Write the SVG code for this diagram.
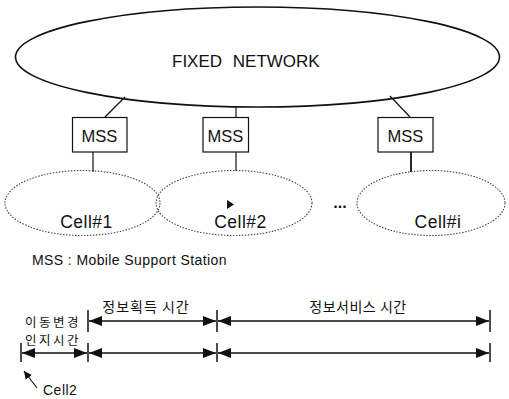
<svg xmlns="http://www.w3.org/2000/svg" width="509" height="399" viewBox="0 0 509 399">
<defs>
<style>
text{font-family:"Liberation Sans","Noto Sans CJK KR",Arial,sans-serif;fill:#111}
.net{fill:none;stroke:#111;stroke-width:1.6}
.box{fill:#fff;stroke:#111;stroke-width:1.2}
.cell{fill:none;stroke:#444;stroke-width:1.1;stroke-dasharray:1.5 1.5}
.ln{stroke:#111;stroke-width:1.2;fill:none}
.arr{stroke:#111;stroke-width:1.5;fill:none;marker-start:url(#ah);marker-end:url(#ah)}
.tick{stroke:#111;stroke-width:1.5}
.kr{font-family:"Noto Sans CJK KR","Liberation Sans",sans-serif;font-size:14px}
.kr2{font-family:"Noto Sans CJK KR","Liberation Sans",sans-serif;font-size:12.5px;letter-spacing:2.5px}
</style>
<marker id="ah" markerUnits="userSpaceOnUse" markerWidth="14" markerHeight="10" refX="13" refY="5" orient="auto-start-reverse" viewBox="0 0 14 10">
<path d="M0,0 L13,5 L0,10 z" fill="#111"/>
</marker>
<marker id="sh" markerUnits="userSpaceOnUse" markerWidth="9" markerHeight="8" refX="8" refY="4" orient="auto" viewBox="0 0 9 8">
<path d="M0,0 L8,4 L0,8 z" fill="#111"/>
</marker>
</defs>

<g id="connectors">
<line class="ln" x1="125" y1="97" x2="105" y2="117"/>
<line class="ln" x1="236" y1="107" x2="236" y2="117"/>
<line class="ln" x1="390" y1="96" x2="410" y2="117"/>
<line class="ln" x1="93" y1="152" x2="93" y2="172"/>
<line class="ln" x1="236" y1="152" x2="236" y2="171"/>
<line class="ln" x1="411" y1="152" x2="411" y2="172" style="stroke-width:1.8"/>
</g>

<g id="fixed-network">
<ellipse class="net" cx="257.5" cy="57" rx="242" ry="50"/>
<text x="172" y="67" font-size="17" word-spacing="6">FIXED NETWORK</text>
</g>

<g id="mss1">
<rect class="box" x="72.5" y="117.5" width="54.5" height="34.5"/>
<text x="99.5" y="142" font-size="16.5" text-anchor="middle">MSS</text>
</g>
<g id="mss2">
<rect class="box" x="203" y="117.5" width="45.5" height="34.5"/>
<text x="225.5" y="142" font-size="16.5" text-anchor="middle">MSS</text>
</g>
<g id="mss3">
<rect class="box" x="378" y="117.5" width="55" height="34.5"/>
<text x="405.5" y="142" font-size="16.5" text-anchor="middle">MSS</text>
</g>

<g id="cell1">
<ellipse class="cell" cx="82.5" cy="203" rx="77.5" ry="32.5"/>
<text x="86.5" y="228" font-size="17.5" text-anchor="middle" letter-spacing="0.5">Cell#1</text>
</g>
<g id="cell2">
<ellipse class="cell" cx="234" cy="203" rx="78" ry="32.5"/>
<path d="M227,200 L234,204.5 L227,209 z" fill="#111"/>
<text x="240.5" y="228" font-size="17.5" text-anchor="middle" letter-spacing="0.5">Cell#2</text>
</g>
<text x="340" y="208" font-size="16" font-weight="bold" text-anchor="middle">...</text>
<g id="celli">
<ellipse class="cell" cx="431" cy="203" rx="74" ry="32.5"/>
<text x="438" y="228" font-size="17.5" text-anchor="middle" letter-spacing="0.5">Cell#i</text>
</g>

<text x="32" y="265" font-size="14" letter-spacing="0.4">MSS : Mobile Support Station</text>

<g id="timeline">
<line class="tick" x1="88" y1="310" x2="88" y2="332"/>
<line class="tick" x1="217" y1="310" x2="217" y2="332"/>
<line class="tick" x1="490" y1="310" x2="490" y2="332"/>
<line class="arr" x1="89" y1="321" x2="216" y2="321"/>
<line class="arr" x1="218" y1="321" x2="489" y2="321"/>
<line class="tick" x1="21" y1="343" x2="21" y2="362"/>
<line class="tick" x1="88" y1="343" x2="88" y2="362"/>
<line class="tick" x1="217" y1="343" x2="217" y2="362"/>
<line class="tick" x1="490" y1="343" x2="490" y2="362"/>
<line class="arr" x1="22" y1="353" x2="87" y2="353"/>
<line class="arr" x1="89" y1="353" x2="216" y2="353"/>
<line class="arr" x1="218" y1="353" x2="489" y2="353"/>
<text class="kr" x="146" y="312" text-anchor="middle" letter-spacing="1">정보획득 시간</text>
<text class="kr" x="358" y="312" text-anchor="middle" letter-spacing="0.5">정보서비스 시간</text>
<text class="kr2" x="25" y="327">이동변경</text>
<text class="kr2" x="25" y="345">인지시간</text>
<line class="ln" x1="37" y1="388" x2="24" y2="371" marker-end="url(#sh)"/>
<text x="43" y="395" font-size="14" letter-spacing="0.5">Cell2</text>
</g>
</svg>
